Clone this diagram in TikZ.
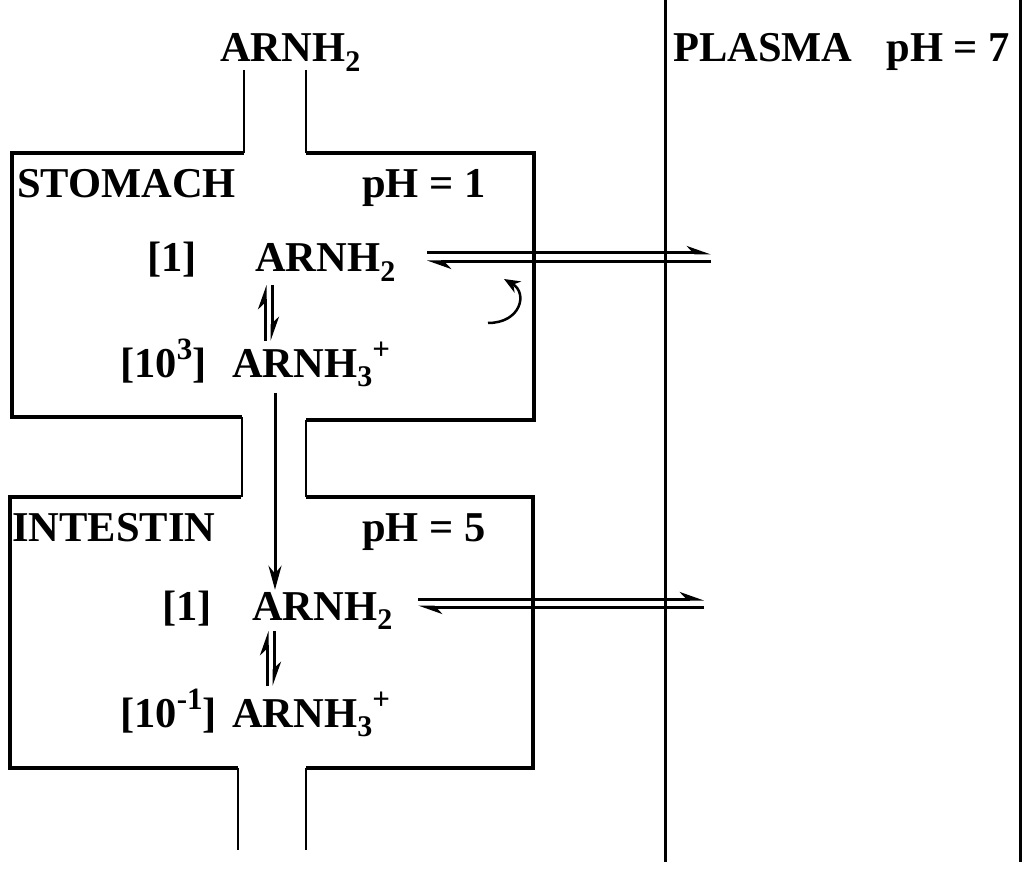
\documentclass[tikz,border=0pt]{standalone}
\usepackage{fontspec}
\setmainfont{Liberation Serif}
\usetikzlibrary{arrows.meta,positioning}
\newcommand{\chemsub}[1]{\raisebox{-0.22em}{\fontsize{30}{30}\selectfont #1}}
\newcommand{\chemsup}[1]{\raisebox{0.42em}{\fontsize{31}{30}\selectfont #1}}

\begin{document}
\begin{tikzpicture}[x=1pt,y=-1pt,lbl/.style={inner sep=0pt,anchor=base west,font=\fontsize{42.5}{48}\selectfont\bfseries},wall/.style={line width=3.5pt},tube/.style={line width=2pt},hp/.style={line width=3pt,-{Stealth[harpoon,length=20pt,width=14pt]}},arr/.style={line width=3pt,-{Stealth[length=24pt,width=13pt]}}]
\useasboundingbox (0,0) rectangle (1025,877);
% labels
\node[lbl] (top) at (220,62) {ARNH\chemsub{2}};
\node[lbl] (pl) at (673,62) {PLASMA\hspace{0.8em}pH = 7};
\node[lbl] (st) at (17,198) {STOMACH};
\node[lbl] (sph) at (362,198) {pH = 1};
\node[lbl] (sc1) at (147,272) {[1]};
\node[lbl] (sa) at (255,272) {ARNH\chemsub{2}};
\node[lbl] (sc2) at (120,377) {[10\chemsup{3}]};
\node[lbl] (sb) at (232,377) {ARNH\chemsub{3}\chemsup{+}};
\node[lbl] (in) at (12,541) {INTESTIN};
\node[lbl] (iph) at (362,541) {pH = 5};
\node[lbl] (ic1) at (162,620) {[1]};
\node[lbl] (ia) at (252,620) {ARNH\chemsub{2}};
\node[lbl] (ic2) at (120,727) {[10\chemsup{-1}]};
\node[lbl] (ib) at (232,727) {ARNH\chemsub{3}\chemsup{+}};
\coordinate (p1) at (711,0);
\coordinate (p2) at (704,0);
% walls
\draw[wall] (244,153)--(12,153)--(12,417)--(242,417);
\draw[wall] (306,153)--(534,153)--(534,420)--(306,420);
\draw[wall] (241,497)--(10,497)--(10,768)--(238,768);
\draw[wall] (306,497)--(533,497)--(533,768)--(306,768);
\draw[tube] (244,70)--(244,153) (306,70)--(306,153);
\draw[tube] (242,417)--(242,497) (306,420)--(306,497);
\draw[tube] (238,768)--(238,850) (306,768)--(306,850);
\draw[line width=3pt] (665,0)--(665,862) (1020,0)--(1020,862);
% arrows
\draw[hp] (427,253)--(p1|-0,253);
\draw[hp] (p1|-0,262)--(427,262);
\draw[hp] (418,599)--(p2|-0,599);
\draw[hp] (p2|-0,607)--(418,607);
\draw[hp] ([xshift=33pt,yshift=36pt]sb.base west)--([xshift=10pt,yshift=-13pt]sa.base west);
\draw[hp] ([xshift=17pt,yshift=-13pt]sa.base west)--([xshift=40pt,yshift=36pt]sb.base west);
\draw[hp] ([xshift=35pt,yshift=41pt]ib.base west)--([xshift=15pt,yshift=-11pt]ia.base west);
\draw[hp] ([xshift=22pt,yshift=-11pt]ia.base west)--([xshift=42pt,yshift=41pt]ib.base west);
\draw[arr] ([xshift=43pt,yshift=-6pt]sb.south west)--([xshift=23pt,yshift=2pt]ia.north west);
\draw[line width=2.5pt,-{Stealth[length=16pt,width=13pt]}] (488,323) .. controls (521,323) and (528,293) .. (504,279);
\end{tikzpicture}
\end{document}
